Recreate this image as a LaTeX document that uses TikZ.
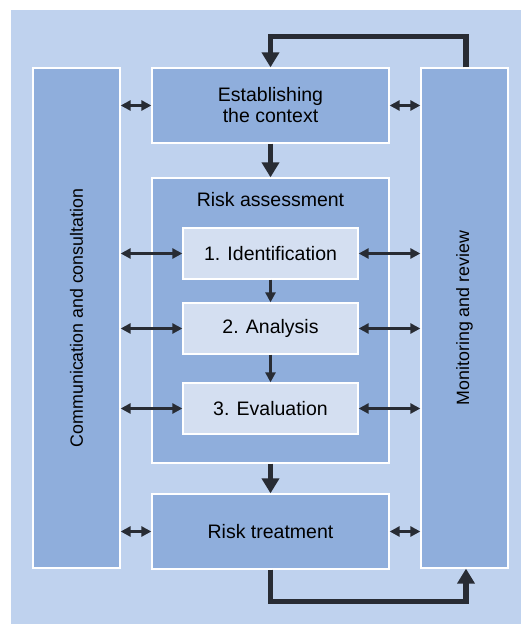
\documentclass[tikz,border=0pt]{standalone}
\usepackage{fontspec}
\setmainfont{Liberation Sans}
\usetikzlibrary{arrows.meta}

\definecolor{paleblue}{RGB}{191,210,238}
\definecolor{midblue}{RGB}{143,174,220}
\definecolor{liteblue}{RGB}{212,223,241}
\definecolor{arrowgrey}{RGB}{40,44,52}

\begin{document}
\begin{tikzpicture}[x=1pt, y=-1pt,
	box/.style = {draw=white, line width=1.3pt, fill=midblue, inner sep=0pt, align=center,
		font=\fontsize{19.5}{21}\selectfont},
	stepbox/.style = {box, fill=liteblue, minimum width=175pt, minimum height=51pt},
	side/.style = {box, minimum width=87pt, minimum height=500pt, font=\fontsize{17.8}{20}\selectfont},
	bigarrow/.style = {draw=arrowgrey, line width=5.5pt, -{Triangle[width=17pt,length=15pt]}},
	link/.style = {draw=arrowgrey, line width=2.7pt, {Triangle[width=10pt,length=10pt]}-{Triangle[width=10pt,length=10pt]}},
	next/.style = {draw=arrowgrey, line width=2.5pt, -{Triangle[width=10pt,length=10pt]}}]

	\useasboundingbox (0,0) rectangle (521,624);
	\fill[paleblue] (11,10) rectangle (521,624);

	% side columns
	\node[side] (comm) at (76.5,318) {\rotatebox{90}{Communication and consultation}};
	\node[side] (mon) at (464.5,318) {\rotatebox{90}{Monitoring and review}};

	% main process
	\node[box, minimum width=237pt, minimum height=75pt] (ctx) at (270.5,105.5) {Establishing\\the context};
	\node[box, minimum width=237pt, minimum height=285pt,
		label={[anchor=center, yshift=-22pt, font=\fontsize{19.5}{21}\selectfont]north:Risk assessment}] (assess) at (270.5,320.5) {};
	\node[stepbox] (ident) at (270.5,253.5) {1. Identification};
	\node[stepbox] (anal) at (270.5,328.5) {2. Analysis};
	\node[stepbox] (eval) at (270.5,408.5) {3. Evaluation};
	\node[box, minimum width=237pt, minimum height=75pt] (treat) at (270.5,531.5) {Risk treatment};

	% flow
	\draw[bigarrow] (ctx.south) -- (assess.north);
	\draw[bigarrow] (assess.south) -- (treat.north);
	\draw[next] (ident) -- (anal);
	\draw[next] (anal) -- (eval);
	\draw[bigarrow] ([xshift=1.5pt]mon.north) -- ++(0,-31) -| (ctx.north);
	\draw[bigarrow] (treat.south) -- ++(0,32) -| ([xshift=1.5pt]mon.south);

	% links to the side columns
	\foreach \n in {ctx, ident, anal, eval, treat} {
		\draw[link] (comm.east |- \n.west) -- (\n.west);
		\draw[link] (\n.east) -- (mon.west |- \n.east);
	}
\end{tikzpicture}
\end{document}
